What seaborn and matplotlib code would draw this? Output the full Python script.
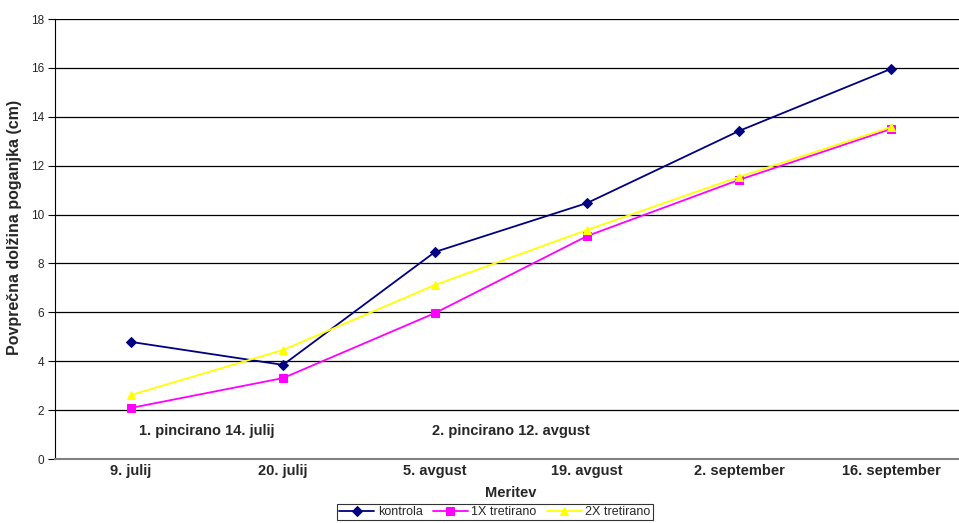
import pandas as pd
import matplotlib.pyplot as plt
import seaborn as sns

# Podatki
meritve = ['9. julij', '20. julij', '5. avgust', '19. avgust', '2. september', '16. september']
kontrola = [4.79, 3.85, 8.47, 10.47, 13.42, 15.96]
tretirano_1x = [2.09, 3.31, 5.97, 9.12, 11.42, 13.50]
tretirano_2x = [2.62, 4.46, 7.12, 9.37, 11.54, 13.58]

serije = ['kontrola', '1X tretirano', '2X tretirano']
barve = ['#000080', '#FF00FF', '#FFFF00']
markerji = ['D', 's', '^']

df = pd.DataFrame({'Meritev': meritve * 3,
                   'vrednost': kontrola + tretirano_1x + tretirano_2x,
                   'serija': [s for s in serije for _ in meritve]})

sns.set_style('white')
plt.rcParams['font.family'] = ['Liberation Sans', 'DejaVu Sans']

fig = plt.figure(figsize=(9.59, 5.23), dpi=100)
ax = fig.add_axes([55 / 959, 1 - 459 / 523, 912 / 959, 440 / 523])

for serija, barva, marker in zip(serije, barve, markerji):
    sns.lineplot(data=df[df['serija'] == serija], x='Meritev', y='vrednost', color=barva,
                 marker=marker, markersize=5.5, markeredgecolor=barva, linewidth=1.3,
                 sort=False, label=serija, ax=ax)

ax.set_xlim(-0.5, 5.5)
ax.set_ylim(0, 18)
ax.set_yticks(range(0, 19, 2))
ax.yaxis.grid(True, color='black', linewidth=0.9)
ax.set_axisbelow(True)
for side in ['top', 'right']:
    ax.spines[side].set_visible(False)
ax.spines['left'].set_color('black')
ax.spines['bottom'].set_color('#808080')
ax.spines['bottom'].set_linewidth(1.5)
ax.tick_params(axis='y', left=True, length=5, color='black', labelsize=8.5, pad=3)
ax.tick_params(axis='x', bottom=False, labelsize=10.5, pad=0)
for lbl in ax.get_xticklabels():
    lbl.set_fontweight('bold')

ax.set_xlabel('Meritev', fontsize=10.5, fontweight='bold', labelpad=6)
ax.set_ylabel('Povprečna dolžina poganjka (cm)', fontsize=11.5, fontweight='bold')
ax.yaxis.set_label_coords(-0.036, 0.527)

ax.text(0.05, 1.15, '1. pincirano 14. julij', fontsize=10.5, fontweight='bold', va='center', ha='left')
ax.text(1.98, 1.15, '2. pincirano 12. avgust', fontsize=10.5, fontweight='bold', va='center', ha='left')

ax.get_legend().remove()
h, l = ax.get_legend_handles_labels()
leg = fig.legend(h, l, loc='lower center', bbox_to_anchor=(0.516, -0.006), ncol=3, fontsize=9,
                 frameon=True, fancybox=False, edgecolor='black', handlelength=2.8,
                 handletextpad=0.3, columnspacing=0.8, borderpad=0.15)
leg.get_frame().set_linewidth(0.8)

plt.savefig('out.png', dpi=100)
